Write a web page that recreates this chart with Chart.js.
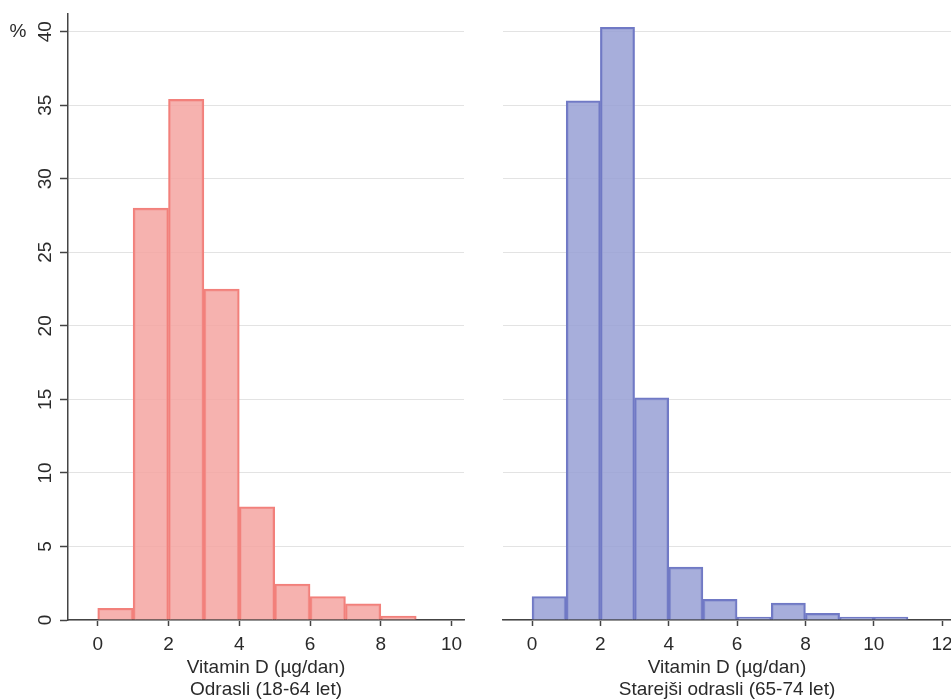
<!DOCTYPE html>
<html>
<head>
<meta charset="utf-8">
<title>Vitamin D</title>
<script src="https://cdn.jsdelivr.net/npm/chart.js@4.4.1/dist/chart.umd.min.js"></script>
<style>
    html, body { margin: 0; padding: 0; background: #fff; }
    #wrap { position: relative; width: 951px; height: 699px; overflow: hidden; }
    #leftChart { position: absolute; left: 0; top: 0; }
    #rightChart { position: absolute; left: 480px; top: 0; }
</style>
</head>
<body>
<div id="wrap">
    <canvas id="leftChart" width="480" height="699"></canvas>
    <canvas id="rightChart" width="471" height="699"></canvas>
</div>
<script>
// Histogram bins (lower edge, width 1 µg/dan) and share of people (%)
const adultBins = [0, 1, 2, 3, 4, 5, 6, 7, 8];
const adultPct = [0.8, 28.0, 35.4, 22.5, 7.7, 2.45, 1.6, 1.1, 0.27];

const elderBins = [0, 1, 2, 3, 4, 5, 6, 7, 8, 9, 10];
const elderPct = [1.6, 35.3, 40.3, 15.1, 3.6, 1.4, 0.2, 1.15, 0.45, 0.2, 0.2];

const yTicks = [0, 5, 10, 15, 20, 25, 30, 35, 40];
const adultXTicks = [0, 2, 4, 6, 8, 10];
const elderXTicks = [0, 2, 4, 6, 8, 10, 12];

const xTitle = 'Vitamin D (µg/dan)';
const adultLabel = 'Odrasli (18-64 let)';
const elderLabel = 'Starejši odrasli (65-74 let)';

const FONT = '"Liberation Sans", Arial, sans-serif';
const TEXT = '#2a2a2a';
const AXIS = '#444444';

// rotated y tick labels and the "%" unit, drawn on the left panel
const yLabelPlugin = {
    id: 'yLabels',
    afterDraw(chart) {
        const y = chart.scales.y;
        const ctx = chart.ctx;
        ctx.save();
        ctx.fillStyle = TEXT;
        ctx.font = '19px ' + FONT;
        ctx.textAlign = 'center';
        ctx.textBaseline = 'middle';
        yTicks.forEach(v => {
            const py = y.getPixelForValue(v);
            ctx.save();
            ctx.translate(46, py);
            ctx.rotate(-Math.PI / 2);
            ctx.fillText(String(v), 0, 0);
            ctx.restore();
        });
        ctx.fillText('%', 18, y.getPixelForValue(40));
        ctx.restore();
    }
};

function makeHistogram(canvasId, bins, pct, fill, border, xMin, xMax, xTicks, label, leftPanel) {
    const points = bins.map((b, i) => ({ x: b + 0.5, y: pct[i] }));
    return new Chart(document.getElementById(canvasId), {
        type: 'bar',
        data: {
            datasets: [{
                data: points,
                backgroundColor: fill,
                borderColor: border,
                borderWidth: 2,
                barPercentage: 1,
                categoryPercentage: 1
            }]
        },
        options: {
            responsive: false,
            animation: false,
            layout: { padding: { top: 14, right: leftPanel ? 16 : 0, left: 0, bottom: 0 } },
            plugins: {
                legend: { display: false },
                tooltip: { enabled: false }
            },
            scales: {
                x: {
                    type: 'linear',
                    min: xMin,
                    max: xMax,
                    offset: false,
                    afterBuildTicks: s => { s.ticks = xTicks.map(v => ({ value: v })); },
                    afterFit: s => {
                        s.height = 79;
                        s.paddingLeft = 0;
                        s.paddingRight = 0;
                    },
                    grid: {
                        offset: false,
                        drawOnChartArea: false,
                        drawTicks: true,
                        tickLength: 6,
                        tickColor: AXIS,
                        tickWidth: 1.5
                    },
                    border: { display: true, color: AXIS, width: 1.5 },
                    ticks: {
                        color: TEXT,
                        font: { family: FONT, size: 19 },
                        padding: 7,
                        maxRotation: 0,
                        autoSkip: false
                    },
                    title: {
                        display: true,
                        text: [xTitle, label],
                        color: TEXT,
                        font: { family: FONT, size: 19, lineHeight: 1.15 },
                        padding: { top: 0, bottom: -2 }
                    }
                },
                y: {
                    min: 0,
                    max: 41.2,
                    afterBuildTicks: s => { s.ticks = yTicks.map(v => ({ value: v })); },
                    afterFit: s => { s.width = leftPanel ? 68 : 23; },
                    grid: {
                        color: '#e3e3e3',
                        lineWidth: 1,
                        drawTicks: leftPanel,
                        tickLength: 8,
                        tickColor: AXIS,
                        tickWidth: 1.5
                    },
                    border: { display: leftPanel, color: AXIS, width: 1.5 },
                    ticks: { display: false }
                }
            }
        },
        plugins: leftPanel ? [yLabelPlugin] : []
    });
}

makeHistogram('leftChart', adultBins, adultPct,
    'rgba(244, 165, 161, 0.85)', '#f2807b',
    -0.84, 10.35, adultXTicks, adultLabel, true);

makeHistogram('rightChart', elderBins, elderPct,
    'rgba(152, 160, 213, 0.85)', '#7079c5',
    -0.85, 12.26, elderXTicks, elderLabel, false);
</script>
</body>
</html>
